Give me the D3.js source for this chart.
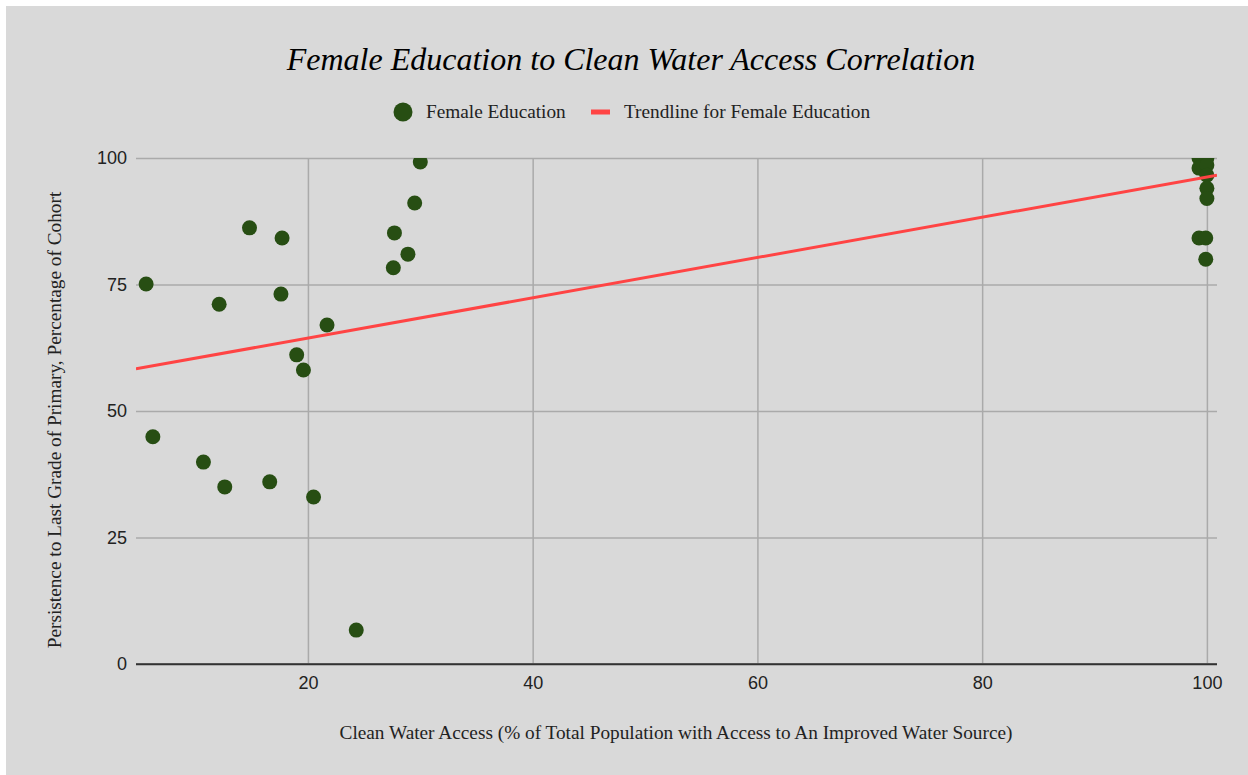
<!DOCTYPE html>
<html>
<head>
<meta charset="utf-8">
<script src="https://cdn.jsdelivr.net/npm/d3@7"></script>
<style>
  html, body { margin: 0; padding: 0; background: #ffffff; }
  svg { display: block; }
</style>
</head>
<body>
<svg id="chart" width="1248" height="775"></svg>
<script>
// Clean water access (%) per country
const waterAccess = [
  5.6, 6.2, 10.7, 12.1, 12.6, 14.8, 16.6, 17.7, 17.6, 19.0,
  19.6, 20.5, 21.7, 24.3, 27.6, 27.7, 28.9, 29.5, 30.0,
  99.3, 100, 99.3, 100, 100, 100, 100, 99.3, 99.9, 99.9
];
// Persistence to last grade of primary, female (% of cohort)
const femaleEducation = [
  75.1, 44.9, 39.9, 71.1, 35.0, 86.2, 36.0, 84.2, 73.1, 61.1,
  58.1, 33.0, 67.0, 6.7, 78.3, 85.2, 81.0, 91.1, 99.2,
  100, 100, 98.0, 98.6, 96.6, 94.0, 92.0, 84.2, 84.2, 80.0
];
// Linear trendline: y = intercept + slope * x
const trendIntercept = 56.45;
const trendSlope = 0.398;

const xTicks = [20, 40, 60, 80, 100];
const yTicks = [0, 25, 50, 75, 100];
const xDomain = [4.7, 100.9];
const yDomain = [0, 100];

const titleText = "Female Education to Clean Water Access Correlation";
const xTitle = "Clean Water Access (% of Total Population with Access to An Improved Water Source)";
const yTitle = "Persistence to Last Grade of Primary, Percentage of Cohort";
const legendLabels = ["Female Education", "Trendline for Female Education"];

const pointColor = "#274e13";
const trendColor = "#ff4444";
const serif = "'Liberation Serif', 'Times New Roman', serif";
const sans = "'Liberation Sans', Arial, sans-serif";

const svg = d3.select("#chart");
const W = 1248, H = 775;
const plot = { left: 136, right: 1217, top: 158, bottom: 664 };

// panel background
svg.append("rect")
  .attr("x", 6).attr("y", 6)
  .attr("width", W - 6).attr("height", H - 6)
  .attr("fill", "#d9d9d9");

const x = d3.scaleLinear().domain(xDomain).range([plot.left, plot.right]);
const y = d3.scaleLinear().domain(yDomain).range([plot.bottom, plot.top]);

// horizontal gridlines + y tick labels
const yAxisG = svg.append("g")
  .attr("transform", `translate(${plot.left},0)`)
  .call(d3.axisLeft(y).tickValues(yTicks).tickSize(-(plot.right - plot.left)).tickPadding(9).tickFormat(d3.format("d")));
yAxisG.select(".domain").remove();
yAxisG.selectAll(".tick line")
  .attr("stroke", d => d === 0 ? "#333333" : "#aaaaaa")
  .attr("stroke-width", 1.5);
yAxisG.selectAll(".tick text")
  .attr("font-family", sans)
  .attr("font-size", 18)
  .attr("fill", "#222222");

// vertical gridlines + x tick labels
const xAxisG = svg.append("g")
  .attr("transform", `translate(0,${plot.bottom})`)
  .call(d3.axisBottom(x).tickValues(xTicks).tickSize(-(plot.bottom - plot.top)).tickPadding(12).tickFormat(d3.format("d")));
xAxisG.select(".domain").remove();
xAxisG.selectAll(".tick line")
  .attr("stroke", "#aaaaaa")
  .attr("stroke-width", 1.5);
xAxisG.selectAll(".tick text")
  .attr("font-family", sans)
  .attr("font-size", 18)
  .attr("fill", "#222222");

// baseline redrawn on top of vertical gridlines
svg.append("line")
  .attr("x1", plot.left).attr("x2", plot.right)
  .attr("y1", y(0)).attr("y2", y(0))
  .attr("stroke", "#333333").attr("stroke-width", 1.5);

// clip to plot area
svg.append("clipPath").attr("id", "plotClip")
  .append("rect")
  .attr("x", plot.left).attr("y", plot.top)
  .attr("width", plot.right - plot.left).attr("height", plot.bottom - plot.top);

const points = waterAccess.map((v, i) => ({ x: v, y: femaleEducation[i] }));

const g = svg.append("g").attr("clip-path", "url(#plotClip)");

g.selectAll("circle.pt")
  .data(points)
  .join("circle")
  .attr("class", "pt")
  .attr("cx", d => x(d.x))
  .attr("cy", d => y(d.y))
  .attr("r", 7.5)
  .attr("fill", pointColor);

// trendline across the full x range
const trend = xDomain.map(v => ({ x: v, y: trendIntercept + trendSlope * v }));
g.append("path")
  .datum(trend)
  .attr("d", d3.line().x(d => x(d.x)).y(d => y(d.y)))
  .attr("stroke", trendColor)
  .attr("stroke-width", 3)
  .attr("fill", "none");

// title
svg.append("text")
  .attr("x", 631).attr("y", 70)
  .attr("text-anchor", "middle")
  .attr("font-family", serif)
  .attr("font-style", "italic")
  .attr("font-size", 32)
  .attr("fill", "#000000")
  .text(titleText);

// legend
const legend = svg.append("g");
legend.append("circle")
  .attr("cx", 403).attr("cy", 112).attr("r", 9.5)
  .attr("fill", pointColor);
legend.append("text")
  .attr("x", 426).attr("y", 118)
  .attr("font-family", serif)
  .attr("font-size", 19.3)
  .attr("fill", "#222222")
  .text(legendLabels[0]);
legend.append("rect")
  .attr("x", 591).attr("y", 109.5).attr("width", 19).attr("height", 5)
  .attr("fill", trendColor);
legend.append("text")
  .attr("x", 624).attr("y", 118)
  .attr("font-family", serif)
  .attr("font-size", 19.3)
  .attr("fill", "#222222")
  .text(legendLabels[1]);

// axis titles
svg.append("text")
  .attr("x", 676).attr("y", 739)
  .attr("text-anchor", "middle")
  .attr("font-family", serif)
  .attr("font-size", 19.3)
  .attr("fill", "#222222")
  .text(xTitle);

svg.append("text")
  .attr("transform", "translate(61,420) rotate(-90)")
  .attr("text-anchor", "middle")
  .attr("font-family", serif)
  .attr("font-size", 19.3)
  .attr("fill", "#222222")
  .text(yTitle);
</script>
</body>
</html>
